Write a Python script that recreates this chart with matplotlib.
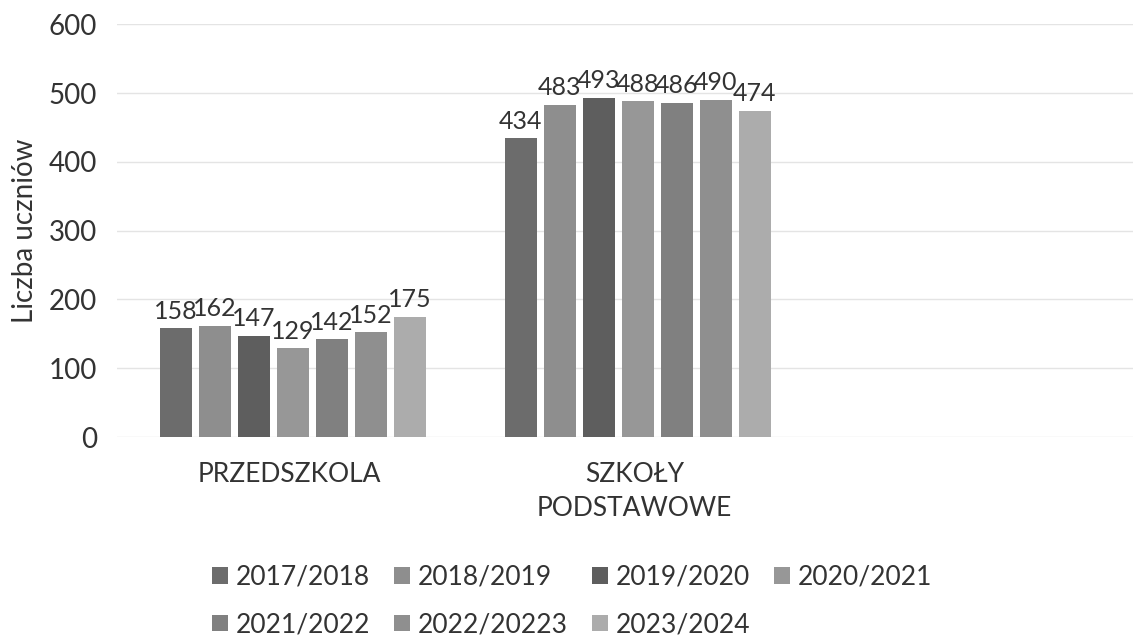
import numpy as np
import matplotlib.pyplot as plt

plt.rcParams['font.family'] = ['Lato', 'DejaVu Sans']

categories = ["PRZEDSZKOLA", "SZKOŁY\nPODSTAWOWE"]
years = ["2017/2018", "2018/2019", "2019/2020", "2020/2021",
         "2021/2022", "2022/20223", "2023/2024"]
przedszkola = [158, 162, 147, 129, 142, 152, 175]
szkoly = [434, 483, 493, 488, 486, 490, 474]
colors = ["#6c6c6c", "#8e8e8e", "#5e5e5e", "#979797", "#808080", "#8f8f8f", "#acacac"]

values = np.array([przedszkola, szkoly])  # rows: category, cols: year

fig = plt.figure(figsize=(11.33, 6.38), dpi=100)
ax = fig.add_axes([0.103, 0.315, 0.897, 0.647])

x = np.arange(len(categories))
pitch = 0.113
width = 0.093
handles = []
for i, year in enumerate(years):
    pos = x + (i - 3) * pitch + 0.01
    bars = ax.bar(pos, values[:, i], width, color=colors[i], label=year, zorder=2)
    handles.append(bars)
    for b, v in zip(bars, values[:, i]):
        ax.text(b.get_x() + b.get_width() / 2, v + 8, str(v),
                ha="center", va="bottom", fontsize=18, color="#333333")

ax.set_xlim(-0.5, 2.445)
ax.set_ylim(0, 600)
ax.set_yticks(range(0, 601, 100))
ax.set_xticks(x)
ax.set_xticklabels(categories, fontsize=19, color="#333333", linespacing=1.45)
ax.tick_params(axis="y", labelsize=20, colors="#333333", length=0, pad=14)
ax.tick_params(axis="x", length=0, pad=18)
ax.grid(axis="y", color="#e4e4e4", linewidth=1, zorder=0)
for s in ax.spines.values():
    s.set_visible(False)
ax.set_ylabel("Liczba uczniów", fontsize=20, color="#333333", labelpad=8)

# row-major order in a 4-column legend
order = [0, 4, 1, 5, 2, 6, 3]
ax.legend([handles[k] for k in order], [years[k] for k in order],
          loc="center", bbox_to_anchor=(0.505, 0.058), bbox_transform=fig.transFigure,
          ncol=4, frameon=False, fontsize=19, handlelength=0.6, handleheight=0.6,
          handletextpad=0.3, columnspacing=0.9, labelspacing=0.85,
          labelcolor="#333333")

fig.savefig("out.png", dpi=100)
